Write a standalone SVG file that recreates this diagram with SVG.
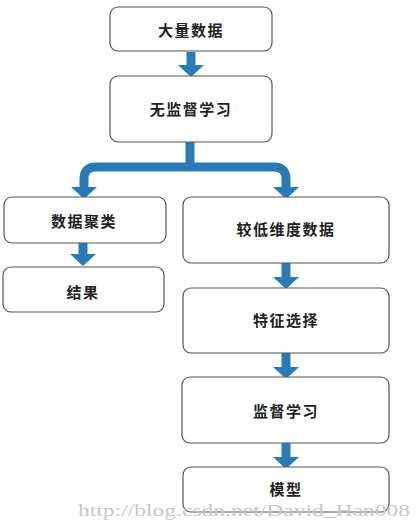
<svg xmlns="http://www.w3.org/2000/svg" width="420" height="530" viewBox="0 0 420 530">
<style>
.box{fill:#fff;stroke:#555;stroke-width:1.2}
.lbl{font-family:"Noto Sans CJK SC","Noto Sans",sans-serif;font-weight:bold;font-size:15px;fill:#222;text-anchor:middle;dominant-baseline:central;letter-spacing:1.5px}
.shaft{fill:none;stroke:#2a7ab8;stroke-width:9}
.head{fill:#2a7ab8}
.wm{font-family:"Liberation Serif",serif;font-size:17px;fill:#c8c8c8}
</style>
<rect width="420" height="530" fill="#fff"/>
<g id="connectors">
<path class="shaft" d="M191,52 V66"/>
<polygon class="head" points="178,65 204,65 191,77"/>
<path class="shaft" d="M190,142 V167 M84,188 V179 Q84,167 96,167 H274 Q286,167 286,179 V188"/>
<polygon class="head" points="71,187 97,187 84,199"/>
<polygon class="head" points="273,187 299,187 286,199"/>
<path class="shaft" d="M83,243 V256"/>
<polygon class="head" points="70,254 96,254 83,266"/>
<path class="shaft" d="M286,263 V278"/>
<polygon class="head" points="273,277 299,277 286,289"/>
<path class="shaft" d="M286,353 V369"/>
<polygon class="head" points="273,367 299,367 286,379"/>
<path class="shaft" d="M286,443 V459"/>
<polygon class="head" points="273,457 299,457 286,469"/>
</g>
<g id="n1"><rect class="box" x="110" y="7" width="162" height="44" rx="8"/><text class="lbl" x="191" y="29">大量数据</text></g>
<g id="n2"><rect class="box" x="110" y="76" width="162" height="66" rx="8"/><text class="lbl" x="191" y="108">无监督学习</text></g>
<g id="n3"><rect class="box" x="4" y="197" width="162" height="46" rx="8"/><text class="lbl" x="84" y="220">数据聚类</text></g>
<g id="n4"><rect class="box" x="183" y="197" width="206" height="66" rx="8"/><text class="lbl" x="286" y="228">较低维度数据</text></g>
<g id="n5"><rect class="box" x="3" y="267" width="161" height="45" rx="8"/><text class="lbl" x="83" y="291">结果</text></g>
<g id="n6"><rect class="box" x="183" y="288" width="206" height="65" rx="8"/><text class="lbl" x="286" y="319">特征选择</text></g>
<g id="n7"><rect class="box" x="182" y="377" width="207" height="66" rx="8"/><text class="lbl" x="286" y="410">监督学习</text></g>
<g id="n8"><rect class="box" x="183" y="467" width="206" height="45" rx="8"/><text class="lbl" x="286" y="488">模型</text></g>
<text class="wm" x="78" y="516" textLength="332" lengthAdjust="spacingAndGlyphs">http://blog.csdn.net/David_Han008</text>
</svg>
